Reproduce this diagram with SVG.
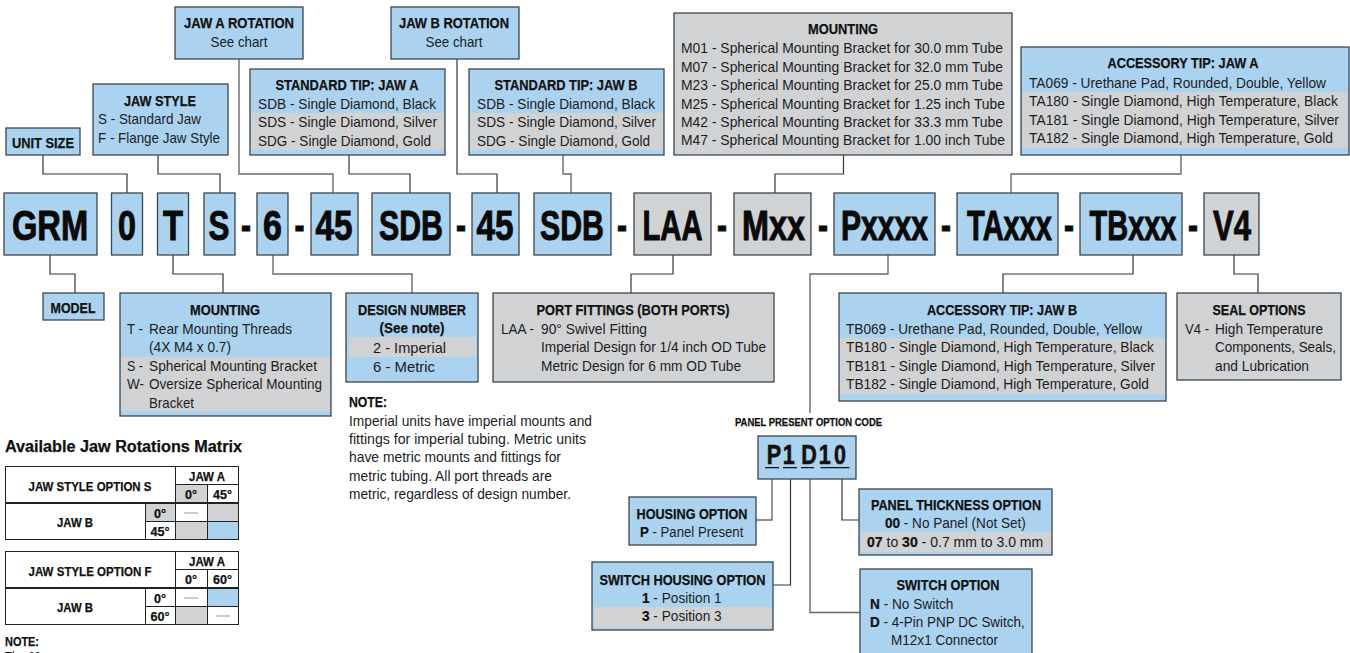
<svg xmlns="http://www.w3.org/2000/svg" width="1350" height="653" viewBox="0 0 1350 653">
<style>
text{font-family:"Liberation Sans",Arial,sans-serif;fill:#1c1c1e;font-size:15px}
.b{font-weight:700;fill:#111;stroke:#111;stroke-width:.25}
.big{font-weight:700;font-size:43px;fill:#0a0a0a;stroke:#0a0a0a;stroke-width:1;text-anchor:middle}
.m{text-anchor:middle}
.t{font-size:13px}
.blue{fill:#abd2ef;stroke:#3c4650;stroke-width:1.3}
.gray{fill:#d1d2d4;stroke:#3c4650;stroke-width:1.3}
.band{fill:#d1d2d4}
.cell{fill:#fff;stroke:#222;stroke-width:1}
.bc{fill:#abd2ef;stroke:#222;stroke-width:1}
.gc{fill:#d1d2d4;stroke:#222;stroke-width:1}
.dash{stroke:#999;stroke-width:1;fill:none}
#connectors path{fill:none;stroke:#333537;stroke-width:1.2}
#connectors path.g{stroke:#68696b;stroke-width:1.4}
</style>
<g id="connectors">
<path d="M43 155V174H127V193"/>
<path d="M158 155V174H220V193"/>
<path class="g" d="M239 59V174H333V193"/>
<path d="M349 155V174H410V193"/>
<path d="M457 59V174H497V193"/>
<path class="g" d="M563 155V174H571V193"/>
<path d="M843.500 155V174H775V193"/>
<path class="g" d="M1181 155V174H1011V193"/>
<path d="M50 255V274H75V293"/>
<path d="M173 255V274H223V293"/>
<path class="g" d="M273 255V274H412V293"/>
<path d="M673 255V274H631V293"/>
<path class="g" d="M888 255V274H810V413"/>
<path d="M1133 255V274H1003V293"/>
<path d="M1234 255V274H1258V293"/>
<path class="g" d="M772 479V520H756"/>
<path d="M790.500 479V585H773"/>
<path class="g" d="M810 479V612.500H860"/>
<path d="M842 479V520H859"/>
</g>
<g id="unit-size"><rect class="blue" x="6" y="128" width="74" height="27"/><text class="b m" x="43" y="148" textLength="62" lengthAdjust="spacingAndGlyphs">UNIT SIZE</text></g>
<g id="jaw-style"><rect class="blue" x="93" y="84" width="135" height="71"/><text class="b m" x="160" y="106" textLength="72" lengthAdjust="spacingAndGlyphs">JAW STYLE</text><text x="98" y="124" textLength="103" lengthAdjust="spacingAndGlyphs">S - Standard Jaw</text><text x="98" y="143" textLength="122" lengthAdjust="spacingAndGlyphs">F -  Flange Jaw Style</text></g>
<g id="jaw-a-rotation"><rect class="blue" x="175" y="7" width="128" height="52"/><text class="b m" x="239" y="28" textLength="110" lengthAdjust="spacingAndGlyphs">JAW A ROTATION</text><text class="m" x="239" y="47" textLength="57" lengthAdjust="spacingAndGlyphs">See chart</text></g>
<g id="standard-tip-a"><rect class="blue" x="250" y="69" width="195" height="86"/><rect class="band" x="251" y="113" width="193" height="37"/><text class="b m" x="347" y="90" textLength="143" lengthAdjust="spacingAndGlyphs">STANDARD TIP: JAW A</text><text x="258" y="109" textLength="178" lengthAdjust="spacingAndGlyphs">SDB -  Single Diamond, Black</text><text x="258" y="127" textLength="179" lengthAdjust="spacingAndGlyphs">SDS -  Single Diamond, Silver</text><text x="258" y="146" textLength="173" lengthAdjust="spacingAndGlyphs">SDG -  Single Diamond, Gold</text></g>
<g id="jaw-b-rotation"><rect class="blue" x="391" y="7" width="128" height="52"/><text class="b m" x="454" y="28" textLength="110" lengthAdjust="spacingAndGlyphs">JAW B ROTATION</text><text class="m" x="454" y="47" textLength="57" lengthAdjust="spacingAndGlyphs">See chart</text></g>
<g id="standard-tip-b"><rect class="blue" x="469" y="69" width="195" height="86"/><rect class="band" x="470" y="113" width="193" height="37"/><text class="b m" x="566" y="90" textLength="143" lengthAdjust="spacingAndGlyphs">STANDARD TIP: JAW B</text><text x="477" y="109" textLength="178" lengthAdjust="spacingAndGlyphs">SDB -  Single Diamond, Black</text><text x="477" y="127" textLength="179" lengthAdjust="spacingAndGlyphs">SDS -  Single Diamond, Silver</text><text x="477" y="146" textLength="173" lengthAdjust="spacingAndGlyphs">SDG -  Single Diamond, Gold</text></g>
<g id="mounting-top"><rect class="gray" x="674" y="13" width="338" height="142"/><text class="b m" x="843" y="34" textLength="70" lengthAdjust="spacingAndGlyphs">MOUNTING</text>
<text x="681" y="53" textLength="322" lengthAdjust="spacingAndGlyphs">M01 - Spherical Mounting Bracket for 30.0 mm Tube</text>
<text x="681" y="72" textLength="322" lengthAdjust="spacingAndGlyphs">M07 - Spherical Mounting Bracket for 32.0 mm Tube</text>
<text x="681" y="90" textLength="322" lengthAdjust="spacingAndGlyphs">M23 - Spherical Mounting Bracket for 25.0 mm Tube</text>
<text x="681" y="109" textLength="324" lengthAdjust="spacingAndGlyphs">M25 - Spherical Mounting Bracket for 1.25 inch Tube</text>
<text x="681" y="127" textLength="322" lengthAdjust="spacingAndGlyphs">M42 - Spherical Mounting Bracket for 33.3 mm Tube</text>
<text x="681" y="145" textLength="324" lengthAdjust="spacingAndGlyphs">M47 - Spherical Mounting Bracket for 1.00 inch Tube</text></g>
<g id="accessory-tip-a"><rect class="blue" x="1021" y="47" width="328" height="108"/><rect class="band" x="1022" y="92" width="326" height="56"/><text class="b m" x="1183" y="68" textLength="151" lengthAdjust="spacingAndGlyphs">ACCESSORY TIP: JAW A</text>
<text transform="translate(1029 88) scale(.9 1)" textLength="330" lengthAdjust="spacingAndGlyphs">TA069 -  Urethane Pad, Rounded, Double, Yellow</text>
<text transform="translate(1029 106) scale(.9 1)" textLength="343.300" lengthAdjust="spacingAndGlyphs">TA180 -  Single Diamond, High Temperature, Black</text>
<text transform="translate(1029 125) scale(.9 1)" textLength="344.400" lengthAdjust="spacingAndGlyphs">TA181 -  Single Diamond, High Temperature, Silver</text>
<text transform="translate(1029 143) scale(.9 1)" textLength="337.800" lengthAdjust="spacingAndGlyphs">TA182 -  Single Diamond, High Temperature, Gold</text></g>
<g id="code-grm"><rect class="blue" x="4" y="193" width="93" height="62"/><text class="big" transform="translate(50 240) scale(.76 1)">GRM</text></g>
<g id="code-0"><rect class="blue" x="111.500" y="193" width="31" height="62"/><text class="big" transform="translate(127 240) scale(.75 1)">0</text></g>
<g id="code-t"><rect class="blue" x="157.500" y="193" width="31" height="62"/><text class="big" transform="translate(173 240) scale(.76 1)">T</text></g>
<g id="code-s"><rect class="blue" x="204" y="193" width="31" height="62"/><text class="big" transform="translate(219 240) scale(.73 1)">S</text></g>
<text class="big" transform="translate(246 240) scale(.7 1)">-</text>
<g id="code-6"><rect class="blue" x="257" y="193" width="31" height="62"/><text class="big" transform="translate(272.500 240) scale(.79 1)">6</text></g>
<text class="big" transform="translate(299.500 240) scale(.7 1)">-</text>
<g id="code-45a"><rect class="blue" x="311" y="193" width="47" height="62"/><text class="big" transform="translate(334 240) scale(.774 1)">45</text></g>
<g id="code-sdba"><rect class="blue" x="372" y="193" width="78" height="62"/><text class="big" transform="translate(411 240) scale(.705 1)">SDB</text></g>
<text class="big" transform="translate(461 240) scale(.7 1)">-</text>
<g id="code-45b"><rect class="blue" x="472" y="193" width="47" height="62"/><text class="big" transform="translate(495 240) scale(.774 1)">45</text></g>
<g id="code-sdbb"><rect class="blue" x="534" y="193" width="77" height="62"/><text class="big" transform="translate(572 240) scale(.705 1)">SDB</text></g>
<text class="big" transform="translate(622 240) scale(.7 1)">-</text>
<g id="code-laa"><rect class="gray" x="634" y="193" width="77" height="62"/><text class="big" transform="translate(672.500 240) scale(.68 1)">LAA</text></g>
<text class="big" transform="translate(722 240) scale(.7 1)">-</text>
<g id="code-mxx"><rect class="gray" x="734" y="193" width="77" height="62"/><text class="big" transform="translate(773.500 240) scale(.753 1)">Mxx</text></g>
<text class="big" transform="translate(823 240) scale(.7 1)">-</text>
<g id="code-pxxxx"><rect class="blue" x="834" y="193" width="101" height="62"/><text class="big" transform="translate(884.500 240) scale(.7 1)">Pxxxx</text></g>
<text class="big" transform="translate(946 240) scale(.7 1)">-</text>
<g id="code-taxxx"><rect class="blue" x="957" y="193" width="101" height="62"/><text class="big" transform="translate(1009.500 240) scale(.674 1)">TAxxx</text></g>
<text class="big" transform="translate(1069 240) scale(.7 1)">-</text>
<g id="code-tbxxx"><rect class="blue" x="1080" y="193" width="102" height="62"/><text class="big" transform="translate(1133 240) scale(.674 1)">TBxxx</text></g>
<text class="big" transform="translate(1193 240) scale(.7 1)">-</text>
<g id="code-v4"><rect class="gray" x="1204" y="193" width="55" height="62"/><text class="big" transform="translate(1232 240) scale(.722 1)">V4</text></g>
<g id="model"><rect class="blue" x="43" y="293" width="61" height="27"/><text class="b m" x="73" y="313" textLength="45" lengthAdjust="spacingAndGlyphs">MODEL</text></g>
<g id="mounting-bottom"><rect class="blue" x="120" y="293" width="211" height="123"/><rect class="band" x="121" y="357" width="209" height="54"/><text class="b m" x="225" y="315" textLength="70" lengthAdjust="spacingAndGlyphs">MOUNTING</text>
<text x="127" y="334" textLength="16" lengthAdjust="spacingAndGlyphs">T -</text><text x="149" y="334" textLength="143" lengthAdjust="spacingAndGlyphs">Rear Mounting Threads</text><text x="149" y="352" textLength="82" lengthAdjust="spacingAndGlyphs">(4X M4 x 0.7)</text>
<text x="127" y="371" textLength="16" lengthAdjust="spacingAndGlyphs">S -</text><text x="149" y="371" textLength="168" lengthAdjust="spacingAndGlyphs">Spherical Mounting Bracket</text>
<text x="127" y="389" textLength="17" lengthAdjust="spacingAndGlyphs">W-</text><text x="149" y="389" textLength="173" lengthAdjust="spacingAndGlyphs">Oversize Spherical Mounting</text><text x="149" y="408" textLength="45" lengthAdjust="spacingAndGlyphs">Bracket</text></g>
<g id="design-number"><rect class="blue" x="346" y="293" width="132" height="89"/><rect class="band" x="349" y="337" width="127" height="20"/><text class="b m" x="412" y="315" textLength="108" lengthAdjust="spacingAndGlyphs">DESIGN NUMBER</text><text class="b m" x="412" y="333" textLength="65" lengthAdjust="spacingAndGlyphs">(See note)</text><text x="373" y="353" textLength="73" lengthAdjust="spacingAndGlyphs">2 -  Imperial</text><text x="373" y="372" textLength="62" lengthAdjust="spacingAndGlyphs">6 -  Metric</text></g>
<g id="port-fittings"><rect class="gray" x="493" y="293" width="281" height="89"/><text class="b m" x="633" y="315" textLength="193" lengthAdjust="spacingAndGlyphs">PORT FITTINGS (BOTH PORTS)</text><text x="501" y="334" textLength="33" lengthAdjust="spacingAndGlyphs">LAA -</text><text x="541" y="334" textLength="106" lengthAdjust="spacingAndGlyphs">90° Swivel Fitting</text><text x="541" y="352" textLength="225" lengthAdjust="spacingAndGlyphs">Imperial Design for 1/4 inch OD Tube</text><text x="541" y="371" textLength="200" lengthAdjust="spacingAndGlyphs">Metric Design for 6 mm OD Tube</text></g>
<g id="accessory-tip-b"><rect class="blue" x="839" y="293" width="327" height="108"/><rect class="band" x="840" y="338" width="325" height="56"/><text class="b m" x="1002" y="315" textLength="150" lengthAdjust="spacingAndGlyphs">ACCESSORY TIP: JAW B</text>
<text x="846" y="334" textLength="296" lengthAdjust="spacingAndGlyphs">TB069 -  Urethane Pad, Rounded, Double, Yellow</text>
<text x="846" y="352" textLength="308" lengthAdjust="spacingAndGlyphs">TB180 -  Single Diamond, High Temperature, Black</text>
<text x="846" y="371" textLength="309" lengthAdjust="spacingAndGlyphs">TB181 -  Single Diamond, High Temperature, Silver</text>
<text x="846" y="389" textLength="303" lengthAdjust="spacingAndGlyphs">TB182 -  Single Diamond, High Temperature, Gold</text></g>
<g id="seal-options"><rect class="gray" x="1177" y="293" width="164" height="87"/><text class="b m" x="1259" y="315" textLength="93" lengthAdjust="spacingAndGlyphs">SEAL OPTIONS</text><text x="1185" y="334" textLength="24" lengthAdjust="spacingAndGlyphs">V4 -</text><text x="1215" y="334" textLength="108" lengthAdjust="spacingAndGlyphs">High Temperature</text><text x="1215" y="352" textLength="121" lengthAdjust="spacingAndGlyphs">Components, Seals,</text><text x="1215" y="371" textLength="94" lengthAdjust="spacingAndGlyphs">and Lubrication</text></g>
<g id="note-design"><text class="b" x="349" y="407" textLength="38" lengthAdjust="spacingAndGlyphs">NOTE:</text><text x="349" y="426" textLength="243" lengthAdjust="spacingAndGlyphs">Imperial units have imperial mounts and</text><text x="349" y="444" textLength="237" lengthAdjust="spacingAndGlyphs">fittings for imperial tubing. Metric units</text><text x="349" y="462" textLength="212" lengthAdjust="spacingAndGlyphs">have metric mounts and fittings for</text><text x="349" y="481" textLength="203" lengthAdjust="spacingAndGlyphs">metric tubing. All port threads are</text><text x="349" y="499" textLength="222" lengthAdjust="spacingAndGlyphs">metric, regardless of design number.</text></g>
<text class="b m" x="808.500" y="426" style="font-size:11px" textLength="147" lengthAdjust="spacingAndGlyphs">PANEL PRESENT OPTION CODE</text>
<g id="p1d10"><rect class="blue" x="758" y="436" width="98" height="43"/><text class="b" transform="translate(766 464) scale(.8 1)" x="1 21 44 66 85" y="0" style="font-size:27px;stroke-width:.6">P1D10</text><path d="M765 467.700h14M783 467.700h14M801 467.700h13M820.500 467.700h29" stroke="#111" stroke-width="1.3" fill="none"/></g>
<g id="housing-option"><rect class="blue" x="629" y="497" width="127" height="48"/><text class="b m" x="692" y="519" textLength="111" lengthAdjust="spacingAndGlyphs">HOUSING OPTION</text><text transform="translate(640 537) scale(.88 1)"><tspan class="b">P</tspan><tspan> - Panel Present</tspan></text></g>
<g id="switch-housing"><rect class="blue" x="592" y="562" width="181" height="68"/><rect class="band" x="594" y="607" width="178" height="21"/><text class="b m" x="682.500" y="585" textLength="166" lengthAdjust="spacingAndGlyphs">SWITCH HOUSING OPTION</text><text transform="translate(642 603) scale(.91 1)"><tspan class="b">1</tspan><tspan> - Position 1</tspan></text><text transform="translate(642 621) scale(.91 1)"><tspan class="b">3</tspan><tspan> - Position 3</tspan></text></g>
<g id="panel-thickness"><rect class="blue" x="859" y="489" width="193" height="66"/><rect class="band" x="861" y="532" width="190" height="20"/><text class="b m" x="956" y="510" textLength="170" lengthAdjust="spacingAndGlyphs">PANEL THICKNESS OPTION</text><text transform="translate(885 528) scale(.904 1)"><tspan class="b">00</tspan><tspan> - No Panel (Not Set)</tspan></text><text transform="translate(867 547) scale(.936 1)"><tspan class="b">07</tspan><tspan> to </tspan><tspan class="b">30</tspan><tspan> - 0.7 mm to 3.0 mm</tspan></text></g>
<g id="switch-option"><rect class="blue" x="860" y="569" width="172" height="90"/><text class="b m" x="948" y="590" textLength="103" lengthAdjust="spacingAndGlyphs">SWITCH OPTION</text><text transform="translate(870 609) scale(.91 1)"><tspan class="b">N</tspan><tspan> - No Switch</tspan></text><text transform="translate(870 627) scale(.9 1)"><tspan class="b">D</tspan><tspan> - 4-Pin PNP DC Switch,</tspan></text><text x="891" y="645" textLength="107" lengthAdjust="spacingAndGlyphs">M12x1 Connector</text></g>
<g id="matrix">
<text class="b" x="5" y="452" style="font-size:16px" textLength="237" lengthAdjust="spacingAndGlyphs">Available Jaw Rotations Matrix</text>
<rect class="cell" x="5.500" y="466.500" width="170" height="36"/><rect class="cell" x="175.500" y="466.500" width="63" height="18"/><rect class="gc" x="175.500" y="484.500" width="32" height="18"/><rect class="cell" x="207.500" y="484.500" width="31" height="18"/>
<rect class="cell" x="5.500" y="503.500" width="140" height="36"/><rect class="gc" x="145.500" y="503.500" width="30" height="18"/><rect class="cell" x="145.500" y="521.500" width="30" height="18"/><rect class="cell" x="175.500" y="503.500" width="32" height="18"/><rect class="gc" x="207.500" y="503.500" width="31" height="18"/><rect class="gc" x="175.500" y="521.500" width="32" height="18"/><rect class="bc" x="207.500" y="521.500" width="31" height="18"/>
<path class="dash" d="M184 513h14"/>
<text class="b m t" x="90" y="490.500" textLength="123" lengthAdjust="spacingAndGlyphs">JAW STYLE OPTION S</text><text class="b m t" x="207" y="481" textLength="36" lengthAdjust="spacingAndGlyphs">JAW A</text><text class="b m t" x="191" y="499" textLength="12" lengthAdjust="spacingAndGlyphs">0°</text><text class="b m t" x="222.500" y="499" textLength="19" lengthAdjust="spacingAndGlyphs">45°</text><text class="b m t" x="75" y="527" textLength="36" lengthAdjust="spacingAndGlyphs">JAW B</text><text class="b m t" x="160" y="518" textLength="12" lengthAdjust="spacingAndGlyphs">0°</text><text class="b m t" x="160" y="536" textLength="19" lengthAdjust="spacingAndGlyphs">45°</text>
<rect class="cell" x="5.500" y="551.500" width="170" height="36"/><rect class="cell" x="175.500" y="551.500" width="63" height="18"/><rect class="cell" x="175.500" y="569.500" width="32" height="18"/><rect class="cell" x="207.500" y="569.500" width="31" height="18"/>
<rect class="cell" x="5.500" y="588.500" width="140" height="36"/><rect class="cell" x="145.500" y="588.500" width="30" height="18"/><rect class="cell" x="145.500" y="606.500" width="30" height="18"/><rect class="cell" x="175.500" y="588.500" width="32" height="18"/><rect class="bc" x="207.500" y="588.500" width="31" height="18"/><rect class="gc" x="175.500" y="606.500" width="32" height="18"/><rect class="cell" x="207.500" y="606.500" width="31" height="18"/>
<path class="dash" d="M184 598h14M216 616h14"/>
<text class="b m t" x="90" y="575.500" textLength="123" lengthAdjust="spacingAndGlyphs">JAW STYLE OPTION F</text><text class="b m t" x="207" y="566" textLength="36" lengthAdjust="spacingAndGlyphs">JAW A</text><text class="b m t" x="191" y="584" textLength="12" lengthAdjust="spacingAndGlyphs">0°</text><text class="b m t" x="222.500" y="584" textLength="19" lengthAdjust="spacingAndGlyphs">60°</text><text class="b m t" x="75" y="612" textLength="36" lengthAdjust="spacingAndGlyphs">JAW B</text><text class="b m t" x="160" y="603" textLength="12" lengthAdjust="spacingAndGlyphs">0°</text><text class="b m t" x="160" y="621" textLength="19" lengthAdjust="spacingAndGlyphs">60°</text>
<text class="b t" x="5" y="645.500" textLength="34" lengthAdjust="spacingAndGlyphs">NOTE:</text>
<text x="5" y="662" textLength="36" lengthAdjust="spacingAndGlyphs">The 60</text>
</g>
</svg>
